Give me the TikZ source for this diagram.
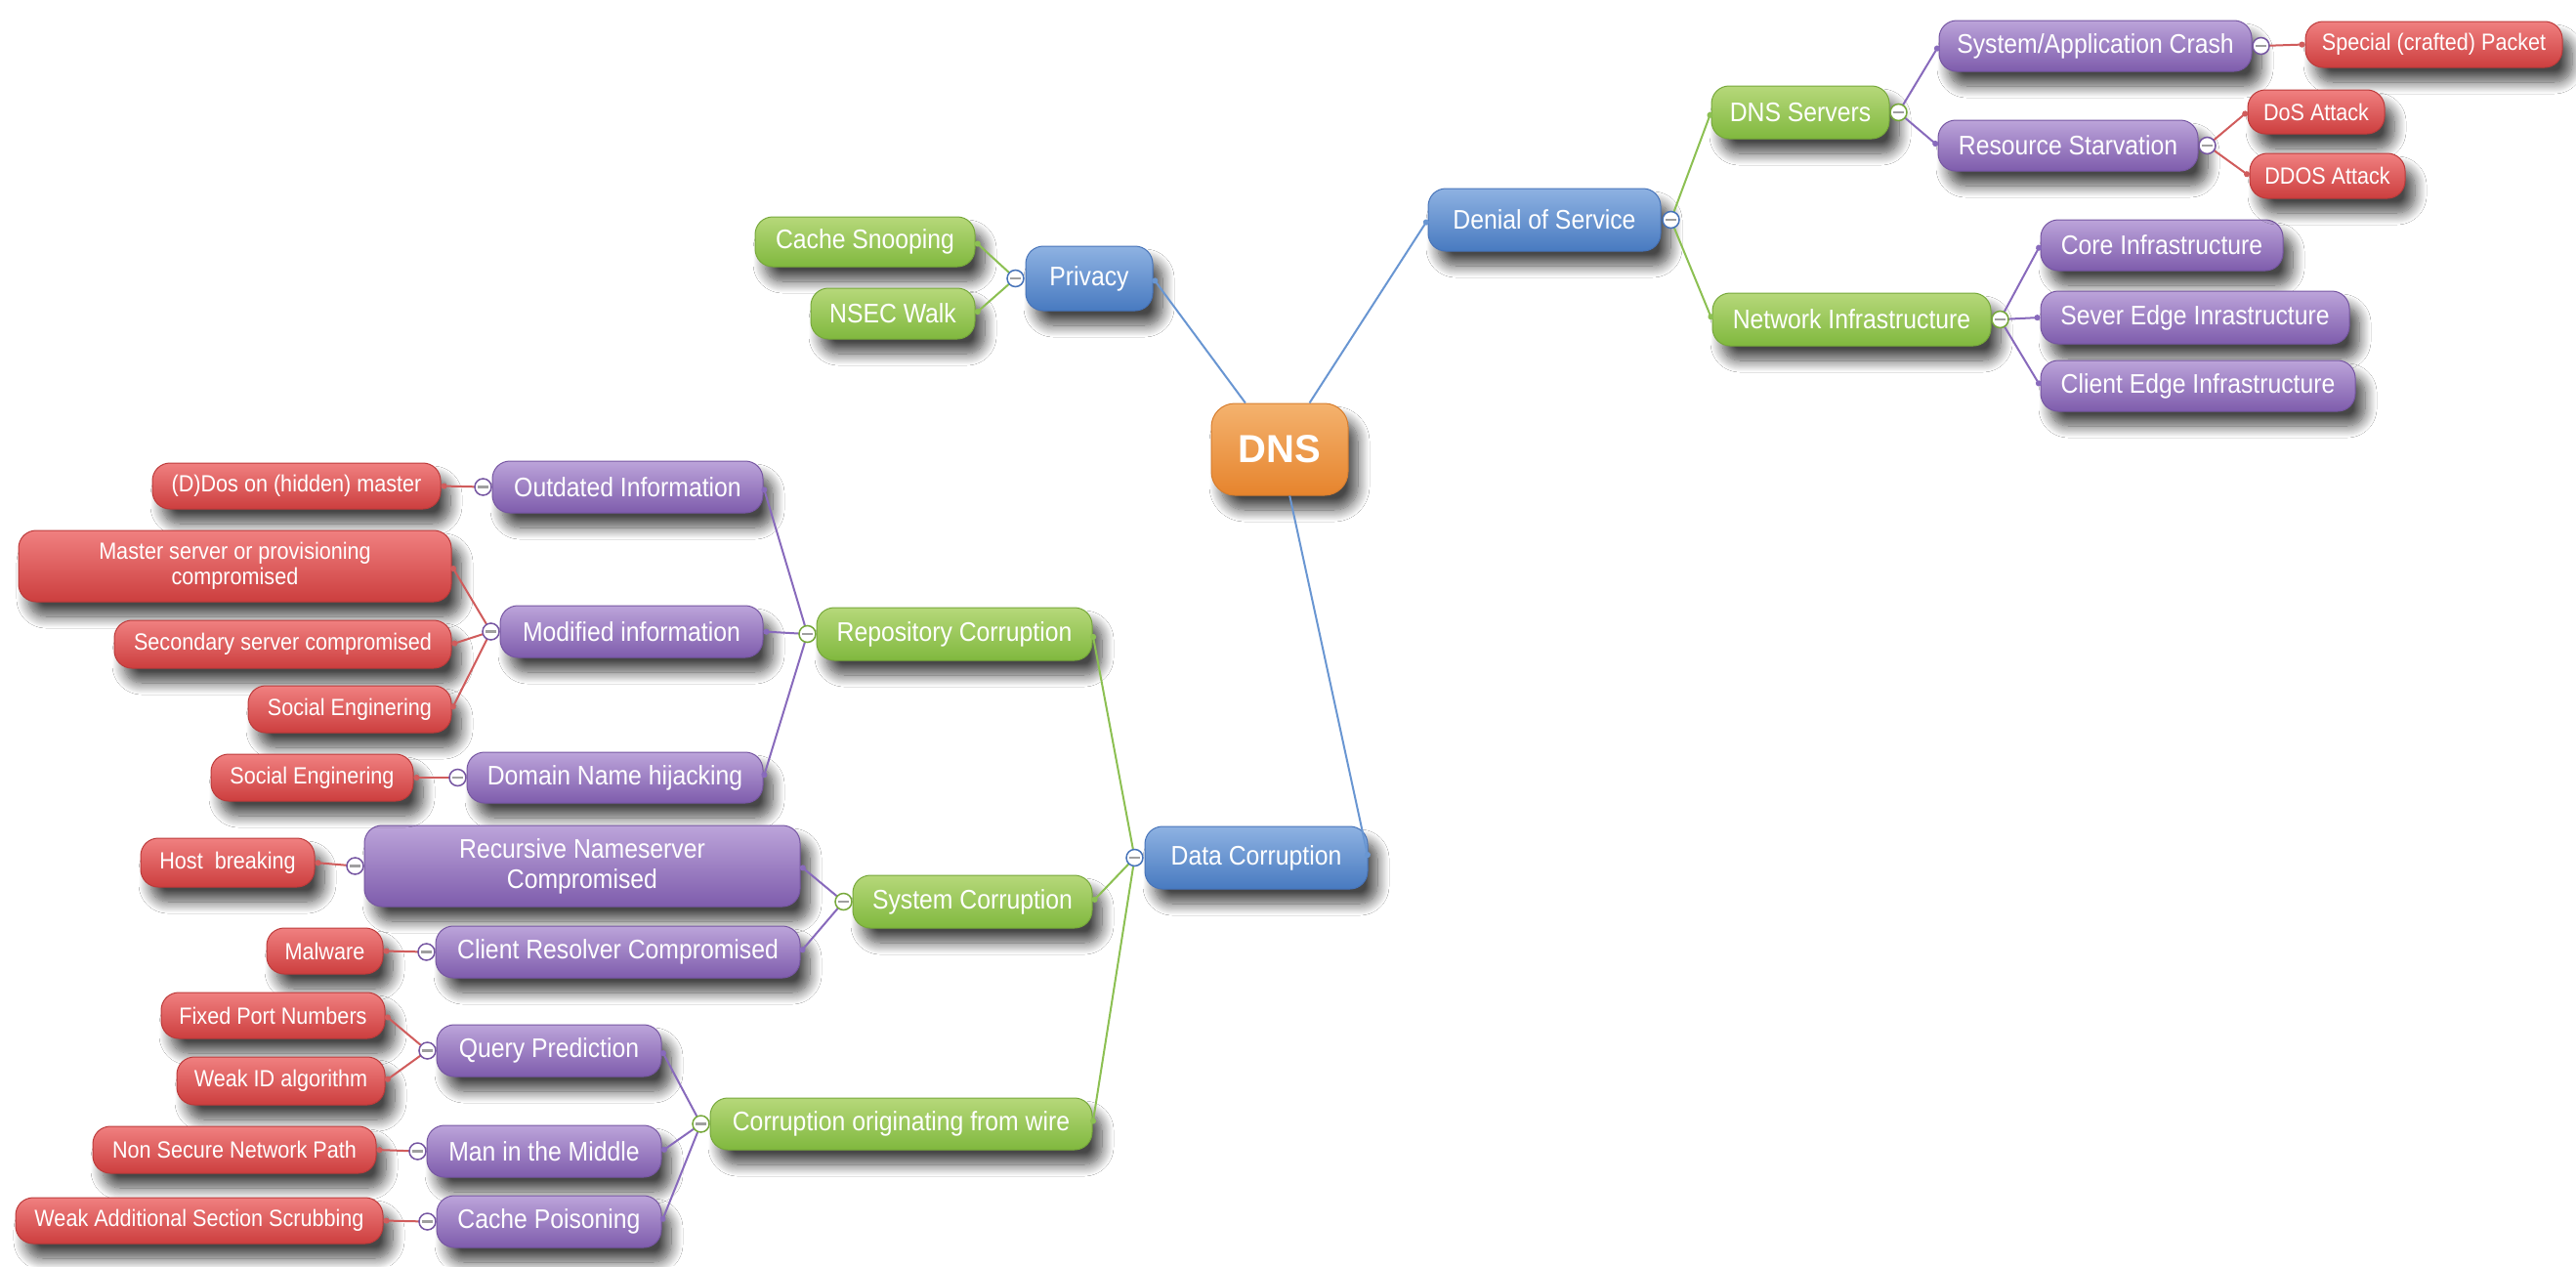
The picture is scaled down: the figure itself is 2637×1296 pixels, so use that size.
\documentclass[tikz,border=0pt]{standalone}
\usepackage{fontspec}
\setmainfont{Liberation Sans}[FakeStretch=0.9]
\newfontfamily\dnsfont{Liberation Sans}
\usetikzlibrary{shadows.blur,arrows.meta}

\definecolor{orangetop}{RGB}{244,178,110}
\definecolor{orangebot}{RGB}{230,132,45}
\definecolor{orangeedge}{RGB}{215,125,45}
\definecolor{bluetop}{RGB}{142,178,226}
\definecolor{bluebot}{RGB}{72,122,192}
\definecolor{blueedge}{RGB}{70,115,185}
\definecolor{blueline}{RGB}{105,150,210}
\definecolor{greentop}{RGB}{182,216,122}
\definecolor{greenbot}{RGB}{128,184,62}
\definecolor{greenedge}{RGB}{118,168,58}
\definecolor{greenline}{RGB}{140,192,82}
\definecolor{purptop}{RGB}{188,164,218}
\definecolor{purpbot}{RGB}{126,92,172}
\definecolor{purpedge}{RGB}{118,86,162}
\definecolor{purpline}{RGB}{136,106,188}
\definecolor{redtop}{RGB}{240,128,128}
\definecolor{redbot}{RGB}{204,62,62}
\definecolor{rededge}{RGB}{188,58,58}
\definecolor{redline}{RGB}{208,92,92}

\tikzset{
  nodebox/.style={rounded corners=18pt, inner sep=0pt, align=center, text=white,
    font=\fontsize{27.5}{31}\selectfont, line width=1pt,
    blur shadow={shadow xshift=10pt, shadow yshift=-15pt, shadow blur radius=12pt,
      shadow blur steps=14, shadow opacity=72}},
  orangebox/.style={nodebox, top color=orangetop, bottom color=orangebot, draw=orangeedge},
  bluebox/.style={nodebox, top color=bluetop, bottom color=bluebot, draw=blueedge},
  greenbox/.style={nodebox, top color=greentop, bottom color=greenbot, draw=greenedge},
  purplebox/.style={nodebox, top color=purptop, bottom color=purpbot, draw=purpedge},
  redbox/.style={nodebox, top color=redtop, bottom color=redbot, draw=rededge,
    font=\fontsize{24}{26}\selectfont},
  sz/.style 2 args={minimum width=#1pt, minimum height=#2pt},
  knob/.style={circle, draw=#1, fill=white, line width=1.5pt, minimum size=17pt, inner sep=0pt,
    path picture={\draw[line width=2.6pt,gray!75]
      ([xshift=-5.5pt]path picture bounding box.center) -- ([xshift=5.5pt]path picture bounding box.center);}},
  link/.style={draw=#1, line width=2pt, -{Circle[length=6pt,width=6pt]}},
}

\begin{document}
\begin{tikzpicture}[x=1pt,y=1pt]
\useasboundingbox (0,0) rectangle (2637,-1296);
\fill[white] (0,0) rectangle (2637,-1296);

% root
\node[orangebox, rounded corners=24pt, sz={140}{94}, font=\dnsfont\bfseries\fontsize{40}{44}\selectfont] (dns) at (1310,-460) {DNS};

% level 1
\node[bluebox, sz={130}{66}] (priv) at (1115,-285) {Privacy};
\node[bluebox, sz={238}{64}] (dos) at (1581,-225) {Denial of Service};
\node[bluebox, sz={228}{64}] (dc) at (1286,-878) {Data Corruption};

% level 2
\node[greenbox, sz={225}{51}] (cs) at (885.5,-247.5) {Cache Snooping};
\node[greenbox, sz={168}{52}] (nsec) at (914,-321) {NSEC Walk};
\node[greenbox, sz={182}{54}] (dnss) at (1843,-115) {DNS Servers};
\node[greenbox, sz={285}{54}] (ni) at (1895.5,-327) {Network Infrastructure};
\node[greenbox, sz={282}{54}] (rc) at (977,-649) {Repository Corruption};
\node[greenbox, sz={245}{54}] (sc) at (995.5,-923) {System Corruption};
\node[greenbox, sz={391}{53}] (cw) at (922.5,-1150.5) {Corruption originating from wire};

% level 3
\node[purplebox, sz={320}{52}] (sac) at (2145,-47) {System/Application Crash};
\node[purplebox, sz={266}{52}] (rs) at (2117,-149) {Resource Starvation};
\node[purplebox, sz={248}{52}] (core) at (2213,-251) {Core Infrastructure};
\node[purplebox, sz={316}{54}] (sever) at (2247,-325) {Sever Edge Inrastructure};
\node[purplebox, sz={322}{52}] (client) at (2250,-395) {Client Edge Infrastructure};
\node[purplebox, sz={277}{53}] (out) at (642.5,-498.5) {Outdated Information};
\node[purplebox, sz={269}{53}] (mod) at (646.5,-646.5) {Modified information};
\node[purplebox, sz={303}{52}] (dnh) at (629.5,-796) {Domain Name hijacking};
\node[purplebox, sz={446}{83}] (rnc) at (596,-886.5) {Recursive Nameserver\\Compromised};
\node[purplebox, sz={373}{53}] (crc) at (632.5,-974.5) {Client Resolver Compromised};
\node[purplebox, sz={230}{53}] (qp) at (562,-1075.5) {Query Prediction};
\node[purplebox, sz={240}{53}] (mitm) at (557,-1178.5) {Man in the Middle};
\node[purplebox, sz={230}{53}] (cp) at (562,-1250.5) {Cache Poisoning};

% level 4
\node[redbox, sz={263}{47}] (scp) at (2491.5,-45.5) {Special (crafted) Packet};
\node[redbox, sz={140}{45}] (dosa) at (2371,-114.5) {DoS Attack};
\node[redbox, sz={159}{46}] (ddos) at (2382.5,-180) {DDOS Attack};
\node[redbox, sz={295}{47}] (ddm) at (303.5,-497.5) {(D)Dos on (hidden) master};
\node[redbox, sz={443}{73}] (msp) at (240.5,-579.5) {Master server or provisioning\\compromised};
\node[redbox, sz={345}{49}] (ssc) at (289.5,-659.5) {Secondary server compromised};
\node[redbox, sz={208}{48}] (se1) at (358,-726) {Social Enginering};
\node[redbox, sz={207}{48}] (se2) at (319.5,-796) {Social Enginering};
\node[redbox, sz={178}{50}] (hb) at (233,-883) {Host\ \ breaking};
\node[redbox, sz={119}{47}] (mal) at (332.5,-973.5) {Malware};
\node[redbox, sz={229}{47}] (fpn) at (279.5,-1039.5) {Fixed Port Numbers};
\node[redbox, sz={213}{49}] (wid) at (287.5,-1106.5) {Weak ID algorithm};
\node[redbox, sz={290}{48}] (nsnp) at (240,-1177) {Non Secure Network Path};
\node[redbox, sz={376}{47}] (wass) at (204,-1249.5) {Weak Additional Section Scrubbing};

% knob positions
\coordinate (k-priv) at ([xshift=-10pt]priv.west);
\coordinate (k-dos) at ([xshift=10pt]dos.east);
\coordinate (k-dc) at ([xshift=-10pt]dc.west);
\coordinate (k-dnss) at ([xshift=9pt]dnss.east);
\coordinate (k-ni) at ([xshift=9pt]ni.east);
\coordinate (k-rc) at ([xshift=-9pt]rc.west);
\coordinate (k-sc) at ([xshift=-9pt]sc.west);
\coordinate (k-cw) at ([xshift=-9pt]cw.west);
\coordinate (k-sac) at ([xshift=9pt]sac.east);
\coordinate (k-rs) at ([xshift=9pt]rs.east);
\coordinate (k-out) at ([xshift=-9pt]out.west);
\coordinate (k-mod) at ([xshift=-9pt]mod.west);
\coordinate (k-dnh) at ([xshift=-9pt]dnh.west);
\coordinate (k-rnc) at ([xshift=-9pt]rnc.west);
\coordinate (k-crc) at ([xshift=-9pt]crc.west);
\coordinate (k-qp) at ([xshift=-9pt]qp.west);
\coordinate (k-mitm) at ([xshift=-9pt]mitm.west);
\coordinate (k-cp) at ([xshift=-9pt]cp.west);

% connectors
\draw[link=blueline] (dns) -- (priv.east);
\draw[link=blueline] (dns) -- (dos.west);
\draw[link=blueline] (dns) -- (dc.east);

\draw[link=greenline] (k-priv) -- (cs.east);
\draw[link=greenline] (k-priv) -- (nsec.east);
\draw[link=greenline] (k-dos) -- (dnss.west);
\draw[link=greenline] (k-dos) -- (ni.west);
\draw[link=greenline] (k-dc) -- (rc.east);
\draw[link=greenline] (k-dc) -- (sc.east);
\draw[link=greenline] (k-dc) -- (cw.east);

\draw[link=purpline] (k-dnss) -- (sac.west);
\draw[link=purpline] (k-dnss) -- (rs.west);
\draw[link=purpline] (k-ni) -- (core.west);
\draw[link=purpline] (k-ni) -- (sever.west);
\draw[link=purpline] (k-ni) -- (client.west);
\draw[link=purpline] (k-rc) -- (out.east);
\draw[link=purpline] (k-rc) -- (mod.east);
\draw[link=purpline] (k-rc) -- (dnh.east);
\draw[link=purpline] (k-sc) -- (rnc.east);
\draw[link=purpline] (k-sc) -- (crc.east);
\draw[link=purpline] (k-cw) -- (qp.east);
\draw[link=purpline] (k-cw) -- (mitm.east);
\draw[link=purpline] (k-cw) -- (cp.east);

\draw[link=redline] (k-sac) -- (scp.west);
\draw[link=redline] (k-rs) -- (dosa.west);
\draw[link=redline] (k-rs) -- (ddos.west);
\draw[link=redline] (k-out) -- (ddm.east);
\draw[link=redline] (k-mod) -- (msp.east);
\draw[link=redline] (k-mod) -- (ssc.east);
\draw[link=redline] (k-mod) -- (se1.east);
\draw[link=redline] (k-dnh) -- (se2.east);
\draw[link=redline] (k-rnc) -- (hb.east);
\draw[link=redline] (k-crc) -- (mal.east);
\draw[link=redline] (k-qp) -- (fpn.east);
\draw[link=redline] (k-qp) -- (wid.east);
\draw[link=redline] (k-mitm) -- (nsnp.east);
\draw[link=redline] (k-cp) -- (wass.east);

% knobs
\node[knob=blueedge] (kn-priv) at (k-priv) {};
\node[knob=blueedge] (kn-dos) at (k-dos) {};
\node[knob=blueedge] (kn-dc) at (k-dc) {};
\node[knob=greenedge] (kn-dnss) at (k-dnss) {};
\node[knob=greenedge] (kn-ni) at (k-ni) {};
\node[knob=greenedge] (kn-rc) at (k-rc) {};
\node[knob=greenedge] (kn-sc) at (k-sc) {};
\node[knob=greenedge] (kn-cw) at (k-cw) {};
\node[knob=purpedge] (kn-sac) at (k-sac) {};
\node[knob=purpedge] (kn-rs) at (k-rs) {};
\node[knob=purpedge] (kn-out) at (k-out) {};
\node[knob=purpedge] (kn-mod) at (k-mod) {};
\node[knob=purpedge] (kn-dnh) at (k-dnh) {};
\node[knob=purpedge] (kn-rnc) at (k-rnc) {};
\node[knob=purpedge] (kn-crc) at (k-crc) {};
\node[knob=purpedge] (kn-qp) at (k-qp) {};
\node[knob=purpedge] (kn-mitm) at (k-mitm) {};
\node[knob=purpedge] (kn-cp) at (k-cp) {};
\end{tikzpicture}
\end{document}
